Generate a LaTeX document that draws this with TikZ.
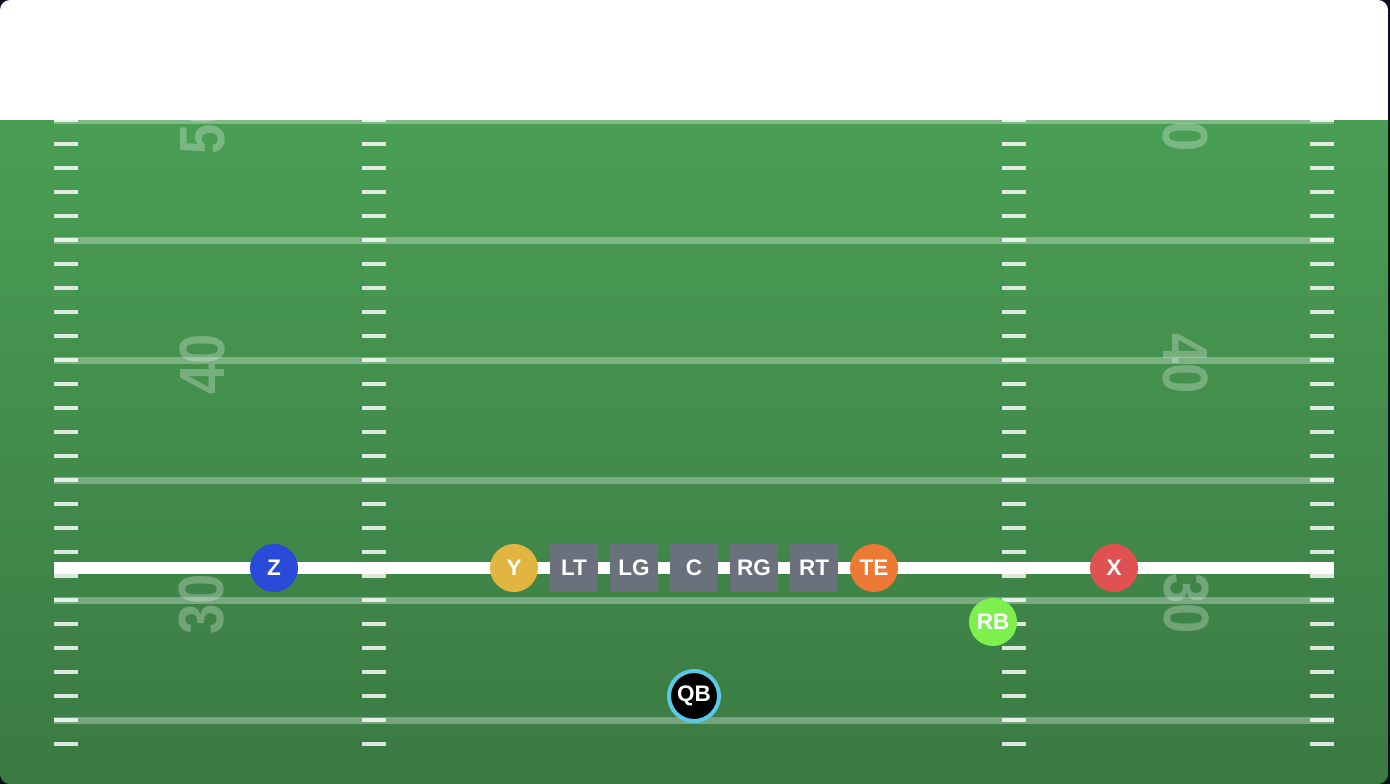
\documentclass[tikz,border=0pt]{standalone}
\usepackage{fontspec}
\usepackage{graphicx}
\setmainfont{Liberation Sans}
\definecolor{bgdark}{HTML}{0E1020}
\definecolor{fieldtop}{HTML}{4A9E54}
\definecolor{fieldbot}{HTML}{3A7A43}
\definecolor{zblue}{HTML}{2A4BD7}
\definecolor{ygold}{HTML}{E2B440}
\definecolor{teorange}{HTML}{EC7A35}
\definecolor{xred}{HTML}{E05252}
\definecolor{rbgreen}{HTML}{7DF04E}
\definecolor{olgray}{HTML}{6B707D}
\definecolor{qbcyan}{HTML}{5BC8E8}
\tikzset{
  yardnum/.style={inner sep=0pt, text=white, text opacity=0.27,
    font=\bfseries\fontsize{64}{64}\selectfont},
  hashmark/.style={fill=white, fill opacity=0.82},
  yardline/.style={draw=white, draw opacity=0.3, line width=7pt},
  scrimmage/.style={draw=white, line width=12pt},
  lbl/.style={text=white, font=\bfseries\fontsize{22.5}{22.5}\selectfont, inner sep=0pt},
  skill/.style={lbl, circle, minimum size=48pt},
  lineman/.style={lbl, rectangle, minimum size=48pt, fill=olgray},
  qbstyle/.style={lbl, circle, minimum size=50pt, fill=black, draw=qbcyan, line width=4pt}
}
\newcommand{\narrow}[1]{\scalebox{0.85}[1]{#1}}
\begin{document}
\begin{tikzpicture}[x=1pt,y=-1pt]
\useasboundingbox (0,0) rectangle (1390,784);
\fill[bgdark] (0,0) rectangle (1390,784);
\begin{scope}
  \clip[rounded corners=10pt] (0,0) rectangle (1388,784);
  \fill[white] (0,0) rectangle (1388,120);
  \shade[top color=fieldtop, bottom color=fieldbot] (0,120) rectangle (1388,784);
  \begin{scope}
    \clip (0,120) rectangle (1388,784);
    % yard numbers
    \node[yardnum, rotate=90] (n50l) at (202,124) {\narrow{50}};
    \node[yardnum, rotate=90] (n40l) at (202,364) {\narrow{40}};
    \node[yardnum, rotate=90] (n30l) at (202,604) {\narrow{30}};
    \node[yardnum, rotate=-90] (n50r) at (1186,122) {\narrow{50}};
    \node[yardnum, rotate=-90] (n40r) at (1186,364) {\narrow{40}};
    \node[yardnum, rotate=-90] (n30r) at (1186,604) {\narrow{30}};
    % yard lines
    \foreach \yy in {120,240,360,480,600,720}
      \draw[yardline] (54,\yy) -- (1334,\yy);
    % hash marks
    \foreach \i in {0,...,26}{
      \pgfmathsetmacro{\yy}{120+24*\i}
      \foreach \xx in {54,362,1002,1310}
        \fill[hashmark] (\xx,\yy-2) rectangle (\xx+24,\yy+2);
    }
  \end{scope}
  % line of scrimmage
  \draw[scrimmage] (54,568) -- (1334,568);
\end{scope}
% players
\node[skill, fill=zblue] (Z) at (274,568) {Z};
\node[skill, fill=ygold] (Y) at (514,568) {Y};
\node[lineman] (LT) at (574,568) {LT};
\node[lineman] (LG) at (634,568) {LG};
\node[lineman] (C) at (694,568) {C};
\node[lineman] (RG) at (754,568) {RG};
\node[lineman] (RT) at (814,568) {RT};
\node[skill, fill=teorange] (TE) at (874,568) {TE};
\node[skill, fill=xred] (X) at (1114,568) {X};
\node[skill, fill=rbgreen] (RB) at (993,622) {RB};
\node[qbstyle] (QB) at (694,696) {QB};
\end{tikzpicture}
\end{document}
